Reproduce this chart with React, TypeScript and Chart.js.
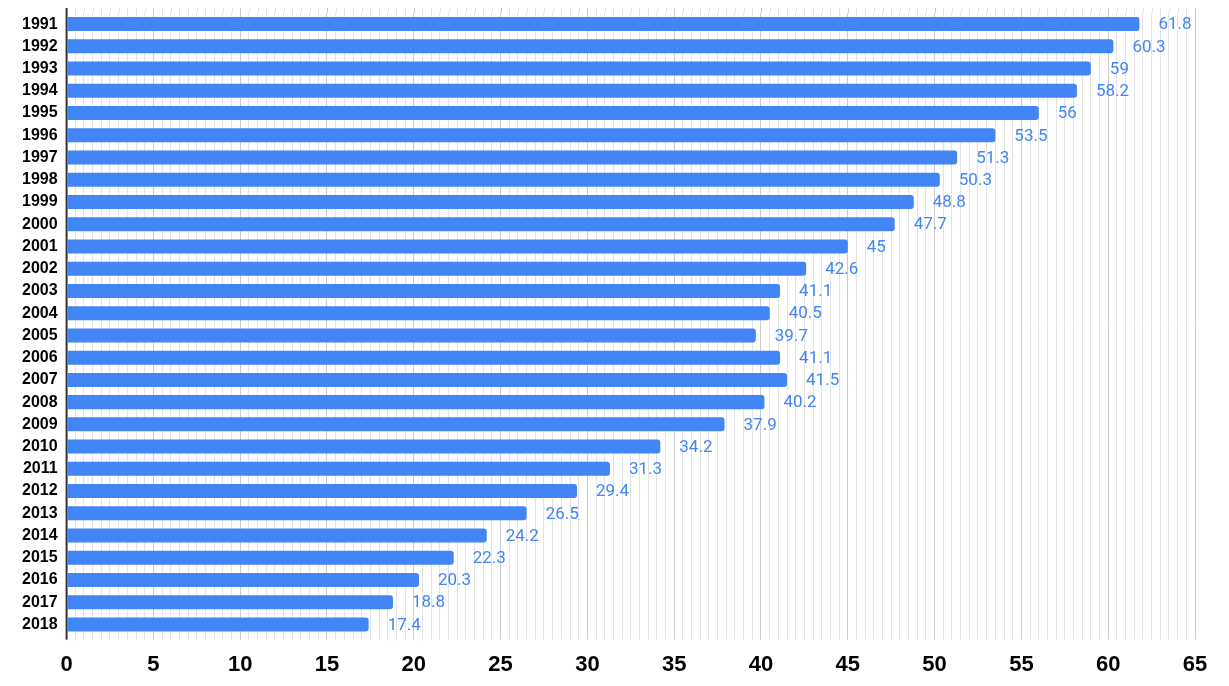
import React, { useEffect, useRef } from "react";
import { Chart, registerables } from "chart.js";

Chart.register(...registerables);

const years = [
  "1991", "1992", "1993", "1994", "1995", "1996", "1997", "1998", "1999", "2000",
  "2001", "2002", "2003", "2004", "2005", "2006", "2007", "2008", "2009", "2010",
  "2011", "2012", "2013", "2014", "2015", "2016", "2017", "2018",
];
const values = [
  61.8, 60.3, 59, 58.2, 56, 53.5, 51.3, 50.3, 48.8, 47.7,
  45, 42.6, 41.1, 40.5, 39.7, 41.1, 41.5, 40.2, 37.9, 34.2,
  31.3, 29.4, 26.5, 24.2, 22.3, 20.3, 18.8, 17.4,
];
const xMin = 0;
const xMax = 65;
const xStep = 0.5;
const xLabelEvery = 5;

const BLUE = "#4285F4";

function gridColor(v: number) {
  if (Math.abs(v) < 1e-9) return "#333333";
  const r = v / xLabelEvery;
  if (Math.abs(r - Math.round(r)) < 1e-9) return "#cccccc";
  return "#e3e3e3";
}

const extendGrid = {
  id: "extendGrid",
  beforeDatasetsDraw(chart: any) {
    const { ctx, chartArea, scales } = chart;
    const xs = scales.x;
    ctx.save();
    ctx.lineWidth = 1;
    xs.ticks.forEach((t: any) => {
      if (Math.abs(t.value) < 1e-9) return;
      const px = Math.round(xs.getPixelForValue(t.value)) + 0.5;
      ctx.strokeStyle = gridColor(t.value);
      ctx.beginPath();
      ctx.moveTo(px, chartArea.top - 5);
      ctx.lineTo(px, chartArea.top);
      ctx.stroke();
    });
    ctx.strokeStyle = "#333333";
    ctx.lineWidth = 2;
    const lx = xs.getPixelForValue(0);
    ctx.beginPath();
    ctx.moveTo(lx, chartArea.top - 5);
    ctx.lineTo(lx, chartArea.bottom + 4);
    ctx.stroke();
    ctx.restore();
  },
};

const valueLabels = {
  id: "valueLabels",
  afterDatasetsDraw(chart: any) {
    const { ctx } = chart;
    const meta = chart.getDatasetMeta(0);
    ctx.save();
    ctx.fillStyle = BLUE;
    ctx.font = "17px Roboto, 'Liberation Sans', Arial, sans-serif";
    ctx.textAlign = "left";
    ctx.textBaseline = "middle";
    meta.data.forEach((bar: any, i: number) => {
      ctx.fillText(String(values[i]), bar.x + 19, bar.y + 1);
    });
    ctx.restore();
  },
};

export default function App() {
  const ref = useRef<HTMLCanvasElement | null>(null);
  useEffect(() => {
    if (!ref.current) return;
    const chart = new Chart(ref.current, {
      type: "bar",
      data: {
        labels: years,
        datasets: [
          {
            data: values,
            backgroundColor: BLUE,
            borderRadius: 3,
            borderSkipped: "start",
            categoryPercentage: 1,
            barPercentage: 0.63,
          },
        ],
      },
      options: {
        indexAxis: "y",
        animation: false,
        responsive: true,
        maintainAspectRatio: false,
        layout: { padding: { top: 5, right: 26, left: 5, bottom: 0 } },
        plugins: {
          legend: { display: false },
          tooltip: { enabled: false },
        },
        scales: {
          x: {
            type: "linear",
            min: xMin,
            max: xMax,
            border: { display: false },
            grid: {
              color: (c: any) => gridColor(c.tick ? c.tick.value : 1),
              drawTicks: true,
              tickLength: 4,
              lineWidth: 1,
            },
            ticks: {
              stepSize: xStep,
              autoSkip: false,
              maxRotation: 0,
              padding: 12,
              color: "#000000",
              font: { family: "'Liberation Sans', Arial, sans-serif", size: 22, weight: "bold" },
              callback: (v: any) => {
                const n = Number(v);
                const r = n / xLabelEvery;
                return Math.abs(r - Math.round(r)) < 1e-9 ? String(Math.round(n)) : "";
              },
            },
          },
          y: {
            type: "category",
            offset: true,
            border: { display: false },
            grid: { display: false, drawTicks: false },
            afterFit: (s: any) => {
              s.paddingTop = 0;
              s.paddingBottom = 0;
            },
            ticks: {
              autoSkip: false,
              padding: 9,
              color: "#000000",
              font: { family: "'Liberation Sans', Arial, sans-serif", size: 16, weight: "bold" },
            },
          },
        },
      },
      plugins: [extendGrid, valueLabels],
    });
    return () => chart.destroy();
  }, []);
  return (
    <div style={{ position: "relative", width: 1213, height: 682 }}>
      <canvas ref={ref} />
    </div>
  );
}
